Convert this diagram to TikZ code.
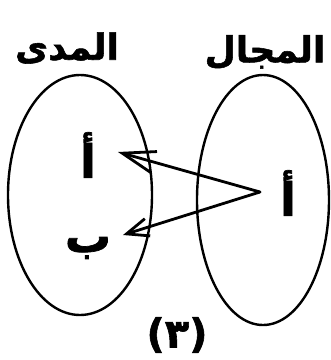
\documentclass[tikz,border=0pt]{standalone}
\usepackage{fontspec}
\TeXXeTstate=1
\newfontfamily\arabicfont[Script=Arabic, BoldFeatures={FakeBold=1.5}]{DejaVu Sans}
\usetikzlibrary{arrows.meta,shapes.geometric}
\tikzset{
  setbox/.style={draw, ellipse, line width=2.4pt, inner sep=0pt},
  title/.style={font=\arabicfont\bfseries\fontsize{36}{36}\selectfont, inner sep=0pt},
  elem/.style={font=\arabicfont\bfseries\fontsize{46}{46}\selectfont, inner sep=0pt},
  maparrow/.style={line width=2.8pt, line cap=round, line join=round},
}
\begin{document}
\begin{tikzpicture}[x=1pt,y=-1pt]
\useasboundingbox (0,0) rectangle (331,360);
\node[setbox, minimum width=144pt, minimum height=240pt] (range) at (80,195) {};
\node[setbox, minimum width=132pt, minimum height=250pt] (domain) at (263,200) {};
\node[title] (rangelabel) at (67,48) {\beginR المدى\endR};
\node[title] (domainlabel) at (265,52) {\beginR المجال\endR};
\node[elem] (ra) at (88,155) {\beginR أ\endR};
\node[elem] (rb) at (88,248) {\beginR ب\endR};
\node[elem] (da) at (288,193) {\beginR أ\endR};
\node[font=\arabicfont\bfseries\fontsize{40}{40}\selectfont, inner sep=0pt] (num) at (177,335) {(٣)};
\coordinate (src) at (260,192);
\coordinate (tipa) at (118,152);
\coordinate (tipb) at (123,235);
\draw[maparrow, -{Straight Barb[length=33pt, width=22pt, line width=2.8pt]}] (src) -- (tipa);
\draw[maparrow, -{Straight Barb[length=22pt, width=18pt, line width=2.8pt]}] (src) -- (tipb);
\end{tikzpicture}
\end{document}
